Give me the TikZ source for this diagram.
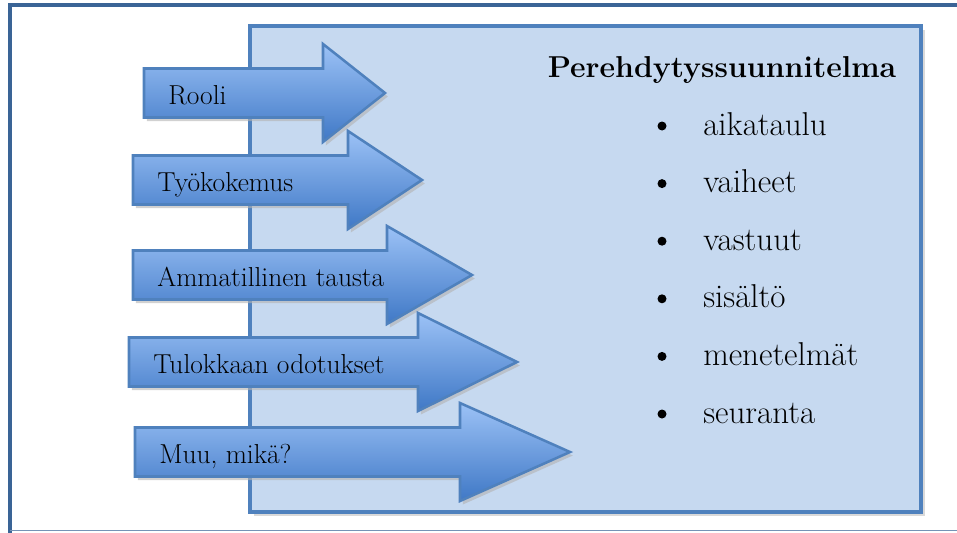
\documentclass[tikz,border=0pt]{standalone}
\usepackage{fontspec}
\usetikzlibrary{shadows}

\definecolor{framedark}{HTML}{3A6496}
\definecolor{boxfill}{HTML}{C6D9F0}
\definecolor{boxline}{HTML}{4F81BD}
\definecolor{arrowtop}{HTML}{9CC2F6}
\definecolor{arrowbot}{HTML}{3F78C6}

\tikzset{
  arrowbox/.style={draw=boxline, line width=1.8pt, line join=miter,
    top color=arrowtop, bottom color=arrowbot,
    drop shadow={shadow xshift=2pt, shadow yshift=-2.5pt, fill=black!30, opacity=0.6}},
  arrowtext/.style={anchor=base west, inner sep=0pt, font=\fontsize{19.5}{23}\selectfont},
  listtext/.style={anchor=base west, inner sep=0pt, font=\fontsize{23.5}{28}\selectfont},
}

% arrow: name, left x, middle y, head x, tip x, text
\newcommand{\tietonuoli}[6]{
  \path[arrowbox] (#2, #3-24.5) -- (#4, #3-24.5) -- (#4, #3-49) -- (#5, #3)
    -- (#4, #3+49) -- (#4, #3+24.5) -- (#2, #3+24.5) -- cycle;
  \node[arrowtext] (#1) at (#2+24, #3+11) {#6};
}

\begin{document}
\begin{tikzpicture}[x=0.025cm, y=-0.025cm]
  \useasboundingbox (0,0) rectangle (957,532);

  % ===== OUTER FRAME =====
  \draw[framedark, line width=3pt] (10,534) -- (10,5) -- (960,5);
  \draw[framedark!70, line width=0.8pt] (10,530.5) -- (960,530.5);

  % ===== PLAN BOX =====
  \filldraw[boxline, fill=boxfill, line width=2.8pt,
    drop shadow={shadow xshift=2.5pt, shadow yshift=-2.5pt, fill=black!25, opacity=0.6}]
    (250,26) rectangle (921,512);

  % ===== ARROWS =====
  \tietonuoli{rooli}{144}{93}{323}{385}{Rooli}
  \tietonuoli{tyokokemus}{133}{180}{348}{422}{Työkokemus}
  \tietonuoli{tausta}{133}{275}{387}{472}{Ammatillinen tausta}
  \tietonuoli{odotukset}{129}{362}{418}{517}{Tulokkaan odotukset}
  \tietonuoli{muu}{135}{452}{460}{570}{Muu, mikä?}

  % ===== PLAN CONTENTS =====
  \node[anchor=base, inner sep=0pt, font=\fontsize{21.5}{26}\selectfont\bfseries]
    (otsikko) at (722,77) {Perehdytyssuunnitelma};
  \foreach \nimi/\teksti [count=\i from 0] in
      {aikataulu/aikataulu, vaiheet/vaiheet, vastuut/vastuut,
       sisalto/sisältö, menetelmat/menetelmät, seuranta/seuranta} {
    \node[listtext] (\nimi) at (703, 135+57.6*\i) {\teksti};
    \fill (662, 126+57.6*\i) circle (4.5);
  }
\end{tikzpicture}
\end{document}
